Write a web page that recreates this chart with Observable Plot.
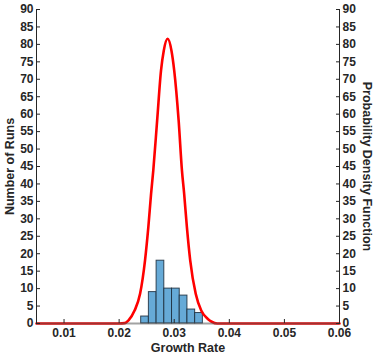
<!DOCTYPE html>
<html>
<head>
<meta charset="utf-8">
<script src="https://cdn.jsdelivr.net/npm/d3@7"></script>
<script src="https://cdn.jsdelivr.net/npm/@observablehq/plot@0.6"></script>
<style>
  html, body { margin: 0; padding: 0; background: #fff; }
</style>
</head>
<body>
<div id="chart"></div>
<script>
// Histogram of growth rates (bin edges and counts)
const binEdges = [0.0240, 0.0254, 0.0268, 0.0282, 0.0296, 0.0310, 0.0324, 0.0338, 0.0352];
const runCounts = [2, 9, 18, 10, 10, 8, 4, 3];

// Fitted probability density function
const pdfX = [0.005, 0.0200, 0.0210, 0.0217, 0.0228, 0.0238, 0.0247, 0.0253, 0.0258, 0.0262,
              0.0269, 0.0276, 0.0281, 0.0288, 0.0295, 0.0300, 0.0308, 0.0314, 0.0318, 0.0323,
              0.0329, 0.0339, 0.0349, 0.0361, 0.0368, 0.0378, 0.06];
const pdfY = [0, 0, 0.1, 0.9, 3.7, 8.5, 18.1, 27.6, 37.2, 43.9,
              58.2, 72.5, 78.2, 81.6, 78.2, 72.5, 58.2, 43.9, 37.2, 27.6,
              18.1, 8.5, 3.7, 1.3, 0.5, 0, 0];

// Axes
const xDomain = [0.005, 0.06];
const yDomain = [0, 90];
const xTicks = [0.01, 0.02, 0.03, 0.04, 0.05, 0.06];
const yTicks = d3.range(0, 91, 5);
const xLabel = "Growth Rate";
const yLabelLeft = "Number of Runs";
const yLabelRight = "Probability Density Function";

const bars = runCounts.map((c, i) => ({x1: binEdges[i], x2: binEdges[i + 1], y: c}));
const curve = pdfX.map((x, i) => ({x, y: pdfY[i]}));

const ink = "#262626";

const chart = Plot.plot({
  width: 374,
  height: 362,
  marginLeft: 36,
  marginRight: 35,
  marginTop: 9,
  marginBottom: 39,
  style: {fontFamily: "'Liberation Sans', Arial, sans-serif", fontSize: "12px", fontWeight: "bold", color: ink, background: "#fff"},
  x: {domain: xDomain},
  y: {domain: yDomain},
  marks: [
    Plot.rectY(bars, {x1: "x1", x2: "x2", y: "y", fill: "#66aad7", stroke: "#1b2b3b", strokeWidth: 1, strokeOpacity: 0.85, inset: 0}),
    Plot.line(curve, {x: "x", y: "y", stroke: "#ff0000", strokeWidth: 2.6, curve: "monotone-x"}),
    Plot.ruleY([yDomain[0]], {stroke: "#555", strokeOpacity: 0.55, strokeWidth: 2}),
    Plot.ruleX([xDomain[0]], {stroke: ink, strokeWidth: 1}),
    Plot.ruleX([xDomain[1]], {stroke: ink, strokeWidth: 1}),
    Plot.axisX({ticks: xTicks, tickFormat: d3.format(".2f"), tickSize: -4, tickPadding: 9, label: null, stroke: ink, fill: ink}),
    Plot.axisY({anchor: "left", ticks: yTicks, tickSize: -4, tickPadding: 7, label: null, stroke: ink, fill: ink}),
    Plot.axisY({anchor: "right", ticks: yTicks, tickSize: -4, tickPadding: 7, label: null, stroke: ink, fill: ink}),
    Plot.text([xLabel], {frameAnchor: "bottom", dy: 24, textAnchor: "middle", lineAnchor: "middle", fontSize: 12.5, fontWeight: "bold", fill: ink}),
    Plot.text([yLabelLeft], {frameAnchor: "left", dx: -27, textAnchor: "middle", lineAnchor: "middle", rotate: -90, fontSize: 12.5, fontWeight: "bold", fill: ink}),
    Plot.text([yLabelRight], {frameAnchor: "right", dx: 27, textAnchor: "middle", lineAnchor: "middle", rotate: 90, fontSize: 12.5, fontWeight: "bold", fill: ink})
  ]
});
document.getElementById("chart").appendChild(chart);
</script>
</body>
</html>
